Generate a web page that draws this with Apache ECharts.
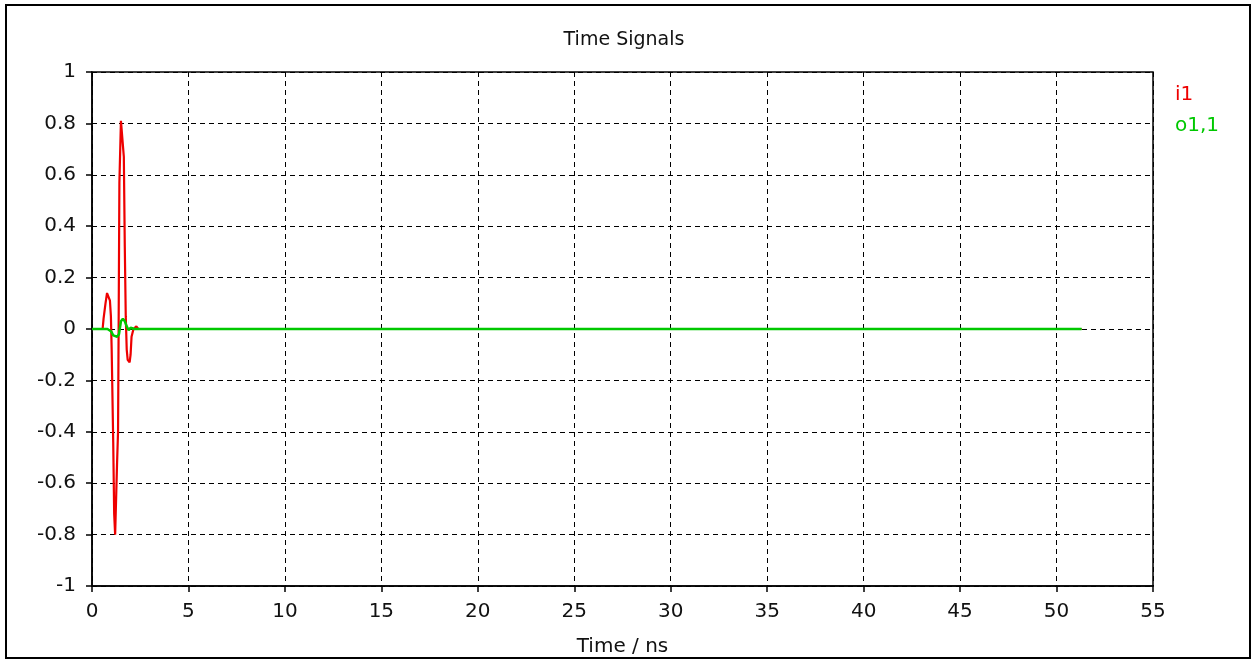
<!DOCTYPE html>
<html>
<head>
<meta charset="utf-8">
<script src="https://cdn.jsdelivr.net/npm/echarts@6/dist/echarts.min.js"></script>
<style>
  html, body { margin: 0; padding: 0; background: #fff; }
  #chart { width: 1255px; height: 662px; }
</style>
</head>
<body>
<div id="chart"></div>
<script>
// Time axis in ns, values are normalized amplitudes
const xTicks = [0, 5, 10, 15, 20, 25, 30, 35, 40, 45, 50, 55];
const yTicks = [-1, -0.8, -0.6, -0.4, -0.2, 0, 0.2, 0.4, 0.6, 0.8, 1];

// Input port signal i1
const i1Time = [0, 0.55, 0.6, 0.7, 0.78, 0.88, 0.93, 0.98, 1.02, 1.05, 1.1, 1.15, 1.2, 1.25, 1.3, 1.35, 1.38, 1.42, 1.5, 1.58, 1.65, 1.7, 1.75, 1.8, 1.85, 1.95, 2.0, 2.05, 2.15, 2.3, 2.4, 51.3];
const i1Value = [0, 0, 0.04, 0.10, 0.14, 0.14, 0.11, 0.05, -0.08, -0.08, -0.44, -0.72, -0.80, -0.80, -0.52, -0.40, 0.0, 0.57, 0.81, 0.81, 0.67, 0.32, 0.05, -0.08, -0.12, -0.13, -0.10, -0.03, 0.0, 0.01, 0, 0];

// Output port signal o1,1
const o11Time = [0, 0.8, 1.0, 1.1, 1.3, 1.4, 1.5, 1.6, 1.7, 1.8, 1.9, 2.0, 2.2, 51.3];
const o11Value = [0, 0, -0.01, -0.025, -0.03, -0.02, 0.03, 0.04, 0.03, 0.01, -0.005, 0.005, 0, 0];

const seriesNames = ['i1', 'o1,1'];
const seriesColors = ['#ee0000', '#00c800'];

const zip = (xs, ys) => xs.map((x, k) => [x, ys[k]]);

const FONT = '"DejaVu Sans", Verdana, sans-serif';
const TEXT = '#111';
const chart = echarts.init(document.getElementById('chart'), null, { renderer: 'canvas' });

const dashed = { show: true, lineStyle: { color: '#000', type: [5, 4], width: 1 } };

chart.setOption({
  animation: false,
  backgroundColor: '#fff',
  grid: {
    left: 92, right: 102, top: 72, bottom: 74,
    show: true, borderColor: '#000', borderWidth: 1.5, backgroundColor: 'transparent'
  },
  xAxis: {
    type: 'value',
    min: xTicks[0], max: xTicks[xTicks.length - 1], interval: 5,
    name: 'Time / ns', nameLocation: 'middle', nameGap: 51,
    nameTextStyle: { color: TEXT, fontFamily: FONT, fontSize: 20 },
    axisLine: { show: true, onZero: false, lineStyle: { color: '#000', width: 1.5 } },
    axisTick: { show: true, inside: false, length: 6, lineStyle: { color: '#000', width: 1.5 } },
    axisLabel: { color: TEXT, fontFamily: FONT, fontSize: 20, margin: 16 },
    splitLine: dashed
  },
  yAxis: {
    type: 'value',
    min: yTicks[0], max: yTicks[yTicks.length - 1], interval: 0.2,
    axisLine: { show: true, onZero: false, lineStyle: { color: '#000', width: 1.5 } },
    axisTick: { show: true, inside: false, length: 6, lineStyle: { color: '#000', width: 1.5 } },
    axisLabel: {
      color: TEXT, fontFamily: FONT, fontSize: 20, margin: 16,
      formatter: v => String(Math.round(v * 10) / 10)
    },
    splitLine: dashed
  },
  series: [
    {
      name: seriesNames[0], type: 'line', data: zip(i1Time, i1Value),
      showSymbol: false, symbol: 'none',
      lineStyle: { color: seriesColors[0], width: 2.2 }, z: 2
    },
    {
      name: seriesNames[1], type: 'line', data: zip(o11Time, o11Value),
      showSymbol: false, symbol: 'none',
      lineStyle: { color: seriesColors[1], width: 2.5 }, z: 3
    }
  ],
  graphic: [
    {
      type: 'rect', shape: { x: 6, y: 5, width: 1244, height: 653 },
      style: { fill: 'none', stroke: '#000', lineWidth: 2 }, silent: true
    },
    {
      type: 'text', x: 624, y: 40,
      style: { text: 'Time Signals', fill: TEXT, font: '19px ' + FONT, align: 'center', verticalAlign: 'middle' }
    },
    {
      type: 'text', x: 1175, y: 95,
      style: { text: seriesNames[0], fill: seriesColors[0], font: '20px ' + FONT, align: 'left', verticalAlign: 'middle' }
    },
    {
      type: 'text', x: 1175, y: 126,
      style: { text: seriesNames[1], fill: seriesColors[1], font: '20px ' + FONT, align: 'left', verticalAlign: 'middle' }
    }
  ]
});
</script>
</body>
</html>
